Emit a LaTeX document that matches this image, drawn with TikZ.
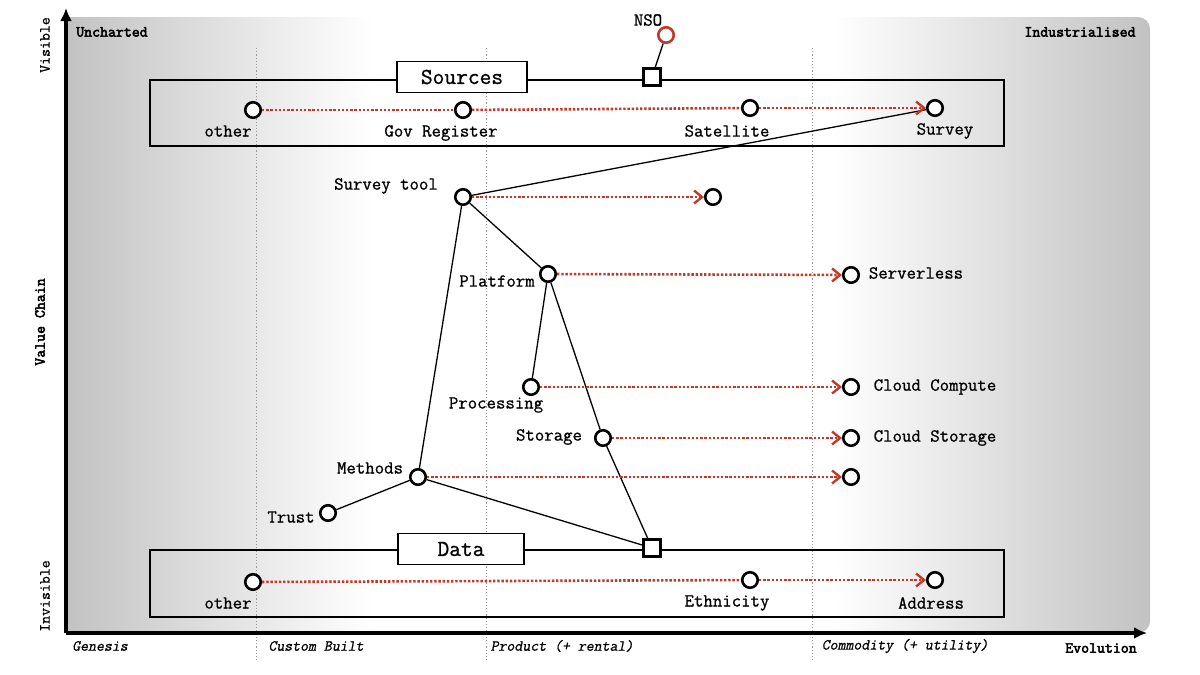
\documentclass[tikz,border=0pt]{standalone}
\usepackage{fontspec}
\newfontfamily\courfont[FakeBold=0.9]{Latin Modern Mono}
\newfontfamily\courbold[FakeBold=3.2]{Latin Modern Mono}
\newfontfamily\courital[FakeBold=0.9,FakeSlant=0.2]{Latin Modern Mono}
\usetikzlibrary{arrows.meta}
\definecolor{evored}{RGB}{192,57,43}
\definecolor{bggray}{RGB}{194,194,194}
\begin{document}
\begin{tikzpicture}[x=1pt,y=-1pt,
 comp/.style={circle,draw=black,line width=2.6pt,fill=white,minimum size=15.5pt,inner sep=0pt},
 redcomp/.style={comp,draw=evored},
 sqnode/.style={rectangle,draw=black,line width=2.4pt,fill=white,minimum size=17pt,inner sep=0pt},
 lbl/.style={font=\courfont\fontsize{18.3}{21}\selectfont,inner sep=0pt},
 axlbl/.style={font=\courfont\fontsize{15.4}{18}\selectfont,inner sep=0pt},
 axbold/.style={font=\courbold\fontsize{15.4}{18}\selectfont,inner sep=0pt},
 axital/.style={font=\courital\fontsize{15.4}{18}\selectfont,inner sep=0pt},
 link/.style={line width=1.3pt,black},
 evo/.style={evored,line width=2.6pt,dash pattern=on 2.4pt off 1.8pt},
 evoarrow/.style={evo,-{Straight Barb[length=8pt,width=13pt,line width=2.4pt]}},
 grp/.style={draw=black,line width=1.5pt,inner sep=0pt},
 titlebox/.style={draw=black,line width=1.5pt,fill=white,minimum width=130pt,minimum height=31pt,inner sep=0pt,font=\courfont\fontsize{22.8}{26}\selectfont},
 stageline/.style={gray!80,line width=0.9pt,dash pattern=on 1.2pt off 2pt},
 axis/.style={line width=3.2pt,-{Latex[length=13pt,width=12pt]}}
]
\useasboundingbox (0,0) rectangle (1200,675);

% background
\shade[left color=bggray,right color=white] (66,17) rectangle (372,633);
\shade[left color=white,right color=bggray,rounded corners=12pt] (832,17) rectangle (1150,633);

% stage lines
\draw[stageline] (256,48) -- (256,662);
\draw[stageline] (486,48) -- (486,662);
\draw[stageline] (812,48) -- (812,662);

% axes
\coordinate (origin) at (66,633);
\coordinate (ytip) at (66,8);
\coordinate (xtip) at (1147,633);
\draw[axis] (origin) -- (ytip);
\draw[axis] (origin) -- (xtip);

% axis labels
\node[axlbl,rotate=90] (visible) at (45,45) {Visible};
\node[axlbl,rotate=90] (invisible) at (45,596) {Invisible};
\node[axbold,rotate=90] (valuechain) at (40,322) {Value Chain};
\node[axbold] (uncharted) at (112,32) {Uncharted};
\node[axbold] (industrialised) at (1080,32) {Industrialised};
\node[axital] (genesis) at (100,646) {Genesis};
\node[axital] (custom) at (316,646) {Custom Built};
\node[axital] (product) at (562,646) {Product (+ rental)};
\node[axital] (commodity) at (905,646) {Commodity (+ utility)};
\node[axbold] (evolution) at (1101,648) {Evolution};

% group boxes
\node[grp,minimum width=854pt,minimum height=66pt] (srcbox) at (577,113) {};
\node[grp,minimum width=854pt,minimum height=67pt] (databox) at (577,583.5) {};
\node[titlebox] (srctitle) at (462,77) {Sources};
\node[titlebox,minimum width=126pt] (datatitle) at (461,549) {Data};
\node[sqnode] (srcsq) at (652,77) {};
\node[sqnode] (datasq) at (652,548) {};

% NSO
\node[redcomp] (nso) at (666,35) {};
\node[lbl] (nsolbl) at (648,20) {NSO};

% components
\node[comp] (sother) at (253,110) {};
\node[comp] (govreg) at (463,110) {};
\node[comp] (satellite) at (750,108) {};
\node[comp] (survey) at (935,108) {};
\node[comp] (stool) at (463,197) {};
\node[comp] (stool2) at (713,197) {};
\node[comp] (platform) at (548,274) {};
\node[comp] (serverless) at (851,275) {};
\node[comp] (processing) at (531,387) {};
\node[comp] (cloudcompute) at (851,387) {};
\node[comp] (storage) at (603,438) {};
\node[comp] (cloudstorage) at (851,438) {};
\node[comp] (methods) at (418,477) {};
\node[comp] (methods2) at (851,477) {};
\node[comp] (trust) at (328,513) {};
\node[comp] (dother) at (253,582) {};
\node[comp] (ethnicity) at (750,580) {};
\node[comp] (address) at (935,580) {};

% labels
\node[lbl] (l1) at (228,131) {other};
\node[lbl] (l2) at (441,133) {Gov Register};
\node[lbl] (l3) at (727,131) {Satellite};
\node[lbl] (l4) at (945,131) {Survey};
\node[lbl] (l5) at (386,186) {Survey tool};
\node[lbl] (l6) at (497,281) {Platform};
\node[lbl] (l7) at (496,405) {Processing};
\node[lbl] (l8) at (549,437) {Storage};
\node[lbl] (l9) at (370,468) {Methods};
\node[lbl] (l10) at (291,517) {Trust};
\node[lbl] (l11) at (916,273) {Serverless};
\node[lbl] (l12) at (935,387) {Cloud Compute};
\node[lbl] (l13) at (935,438) {Cloud Storage};
\node[lbl] (l14) at (228,603) {other};
\node[lbl] (l15) at (727,603) {Ethnicity};
\node[lbl] (l16) at (931,603) {Address};

% links
\draw[link] (srcsq) -- (nso);
\draw[link] (stool) -- (survey);
\draw[link] (stool) -- (platform);
\draw[link] (stool) -- (methods);
\draw[link] (platform) -- (processing);
\draw[link] (platform) -- (storage);
\draw[link] (storage) -- (datasq);
\draw[link] (methods) -- (trust);
\draw[link] (methods) -- (datasq);

% evolution
\draw[evo] (sother) -- (govreg);
\draw[evo] (govreg) -- (satellite);
\draw[evoarrow] (satellite) -- (survey);
\draw[evoarrow] (stool) -- (stool2);
\draw[evoarrow] (platform) -- (serverless);
\draw[evoarrow] (processing) -- (cloudcompute);
\draw[evoarrow] (storage) -- (cloudstorage);
\draw[evoarrow] (methods) -- (methods2);
\draw[evo] (dother) -- (ethnicity);
\draw[evoarrow] (ethnicity) -- (address);
\end{tikzpicture}
\end{document}
